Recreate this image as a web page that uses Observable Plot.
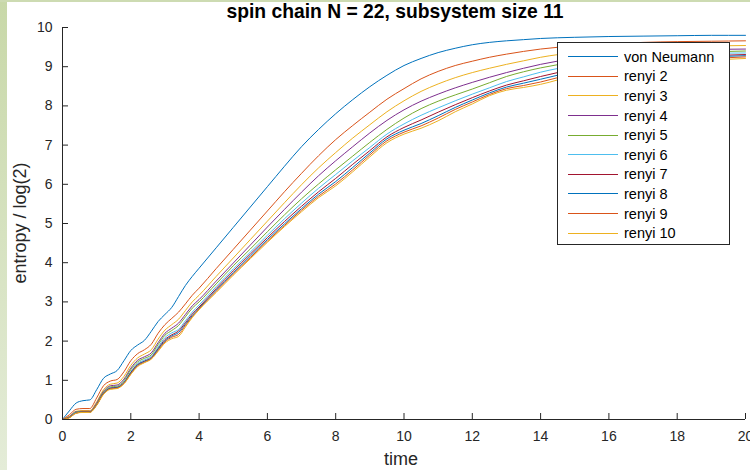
<!DOCTYPE html>
<html>
<head>
<meta charset="utf-8">
<script src="https://cdn.jsdelivr.net/npm/d3@7"></script>
<script src="https://cdn.jsdelivr.net/npm/@observablehq/plot@0.6"></script>
<style>
  body { margin: 0; background: #ffffff; font-family: "Liberation Sans", Arial, sans-serif; color: #262626; }
  #wrap { position: relative; width: 750px; height: 470px; overflow: hidden; background: #ffffff; }
  #edgeLeft { position: absolute; left: 0; top: 0; width: 7px; height: 470px; background: linear-gradient(#c8d8a8, #e4ecd8); }
  #edgeTop { position: absolute; left: 0; top: 0; width: 750px; height: 2px; background: #cddbb2; }
  #chart { position: absolute; left: 0; top: 0; }
  #title { position: absolute; top: 2px; left: 395px; transform: translateX(-50%); white-space: nowrap;
           font-weight: bold; font-size: 19.3px; line-height: 20px; color: #000; }
  #xlabel { position: absolute; top: 449px; left: 401px; transform: translateX(-50%); font-size: 18px; line-height: 20px; }
  #ylabel { position: absolute; left: 20px; top: 223px; transform: translate(-50%, -50%) rotate(-90deg); white-space: nowrap;
            font-size: 18px; line-height: 20px; }
  #legend { position: absolute; left: 557px; top: 42px; width: 173px; height: 203px; box-sizing: border-box;
            border: 1px solid #262626; background: #fff; padding-top: 4px; }
  .row { display: flex; align-items: center; height: 19.6px; }
  .swatch { margin-left: 10px; width: 50px; height: 0; border-top: 1px solid; }
  .lab { margin-left: 6px; font-size: 14.5px; color: #000; }
</style>
</head>
<body>
<div id="wrap">
  <div id="edgeLeft"></div>
  <div id="edgeTop"></div>
  <div id="chart"></div>
  <div id="title">spin chain N = 22, subsystem size 11</div>
  <div id="xlabel">time</div>
  <div id="ylabel">entropy / log(2)</div>
  <div id="legend"></div>
</div>
<script>
// Time grid of the entanglement-entropy curves
const time = [0, 0.2, 0.4, 0.6, 0.8, 1.0, 1.2, 1.4, 1.6, 1.8, 2.0, 2.2, 2.4, 2.6, 2.8, 3.0, 3.2, 3.4, 3.6, 3.8, 4.0,
  4.5, 5, 5.5, 6, 6.5, 7, 7.5, 8, 8.5, 9, 9.5, 10, 10.5, 11, 11.5, 12, 12.5, 13, 13.5, 14,
  15, 16, 17, 18, 19, 20];

// Entropies in bits (entropy / log 2) for the half-chain cut
const vonNeumann = [0, 0.22, 0.42, 0.48, 0.50, 0.76, 1.05, 1.16, 1.25, 1.50, 1.76, 1.90, 2.02, 2.25, 2.50, 2.68, 2.86, 3.14, 3.42, 3.65, 3.86,
  4.38, 4.90, 5.42, 5.94, 6.46, 6.96, 7.40, 7.80, 8.16, 8.49, 8.78, 9.03, 9.21, 9.36, 9.47, 9.56, 9.62, 9.66, 9.69, 9.72,
  9.75, 9.77, 9.78, 9.79, 9.80, 9.80];
const renyi2 = [0, 0.12, 0.26, 0.28, 0.28, 0.55, 0.86, 0.98, 1.02, 1.22, 1.50, 1.68, 1.78, 1.92, 2.20, 2.42, 2.58, 2.74, 2.95, 3.17, 3.35,
  3.85, 4.34, 4.83, 5.32, 5.81, 6.28, 6.73, 7.14, 7.50, 7.84, 8.17, 8.44, 8.69, 8.88, 9.03, 9.14, 9.24, 9.32, 9.39, 9.45,
  9.53, 9.58, 9.62, 9.64, 9.65, 9.66];
const renyi3 = [0, 0.08, 0.21, 0.23, 0.23, 0.45, 0.76, 0.90, 0.93, 1.10, 1.38, 1.57, 1.67, 1.78, 2.05, 2.28, 2.42, 2.56, 2.78, 3.00, 3.17,
  3.65, 4.12, 4.59, 5.06, 5.53, 5.99, 6.42, 6.81, 7.18, 7.52, 7.85, 8.13, 8.37, 8.56, 8.72, 8.85, 8.96, 9.06, 9.15, 9.24,
  9.36, 9.44, 9.49, 9.52, 9.53, 9.54];
const renyi4 = [0, 0.07, 0.20, 0.21, 0.21, 0.42, 0.72, 0.86, 0.88, 1.03, 1.31, 1.51, 1.60, 1.70, 1.96, 2.20, 2.33, 2.46, 2.68, 2.90, 3.06,
  3.53, 3.99, 4.45, 4.91, 5.36, 5.80, 6.22, 6.60, 6.96, 7.31, 7.63, 7.90, 8.12, 8.30, 8.46, 8.60, 8.73, 8.85, 8.96, 9.06,
  9.21, 9.31, 9.38, 9.42, 9.44, 9.45];
const renyi5 = [0, 0.06, 0.19, 0.20, 0.20, 0.40, 0.70, 0.83, 0.85, 0.99, 1.27, 1.47, 1.56, 1.65, 1.91, 2.15, 2.27, 2.40, 2.62, 2.84, 3.00,
  3.46, 3.92, 4.35, 4.79, 5.22, 5.63, 6.01, 6.37, 6.72, 7.07, 7.40, 7.69, 7.93, 8.12, 8.28, 8.43, 8.59, 8.75, 8.87, 8.97,
  9.12, 9.23, 9.31, 9.36, 9.38, 9.40];
const renyi6 = [0, 0.06, 0.18, 0.19, 0.19, 0.39, 0.68, 0.81, 0.83, 0.96, 1.22, 1.43, 1.52, 1.61, 1.85, 2.09, 2.21, 2.30, 2.52, 2.74, 2.92,
  3.39, 3.84, 4.27, 4.70, 5.12, 5.52, 5.90, 6.25, 6.60, 6.94, 7.28, 7.54, 7.76, 7.95, 8.13, 8.30, 8.46, 8.62, 8.74, 8.86,
  9.03, 9.16, 9.25, 9.31, 9.34, 9.35];
const renyi7 = [0, 0.05, 0.17, 0.19, 0.19, 0.38, 0.67, 0.80, 0.82, 0.94, 1.20, 1.40, 1.49, 1.58, 1.81, 2.04, 2.16, 2.26, 2.47, 2.69, 2.87,
  3.34, 3.79, 4.22, 4.64, 5.05, 5.44, 5.81, 6.15, 6.51, 6.86, 7.21, 7.45, 7.64, 7.84, 8.03, 8.21, 8.38, 8.53, 8.64, 8.75,
  8.94, 9.08, 9.18, 9.24, 9.28, 9.31];
const renyi8 = [0, 0.05, 0.17, 0.19, 0.19, 0.37, 0.66, 0.79, 0.81, 0.93, 1.18, 1.39, 1.48, 1.56, 1.79, 2.01, 2.13, 2.22, 2.43, 2.65, 2.84,
  3.30, 3.74, 4.17, 4.59, 4.99, 5.38, 5.75, 6.07, 6.43, 6.80, 7.16, 7.38, 7.55, 7.75, 7.96, 8.15, 8.33, 8.48, 8.58, 8.68,
  8.88, 9.03, 9.13, 9.20, 9.25, 9.28];
const renyi9 = [0, 0.05, 0.16, 0.19, 0.19, 0.37, 0.65, 0.78, 0.80, 0.92, 1.16, 1.37, 1.46, 1.55, 1.76, 1.98, 2.10, 2.17, 2.40, 2.62, 2.82,
  3.27, 3.71, 4.13, 4.55, 4.95, 5.34, 5.70, 6.01, 6.37, 6.75, 7.11, 7.33, 7.49, 7.69, 7.91, 8.10, 8.29, 8.44, 8.52, 8.61,
  8.83, 8.99, 9.10, 9.17, 9.21, 9.25];
const renyi10 = [0, 0.04, 0.16, 0.18, 0.18, 0.36, 0.64, 0.77, 0.79, 0.91, 1.15, 1.35, 1.45, 1.54, 1.74, 1.95, 2.06, 2.12, 2.36, 2.60, 2.80,
  3.24, 3.68, 4.10, 4.52, 4.92, 5.30, 5.66, 5.96, 6.32, 6.70, 7.06, 7.28, 7.43, 7.62, 7.85, 8.05, 8.26, 8.40, 8.47, 8.55,
  8.78, 8.95, 9.06, 9.13, 9.17, 9.21];

const seriesNames = ["von Neumann", "renyi 2", "renyi 3", "renyi 4", "renyi 5", "renyi 6", "renyi 7", "renyi 8", "renyi 9", "renyi 10"];
const seriesValues = [vonNeumann, renyi2, renyi3, renyi4, renyi5, renyi6, renyi7, renyi8, renyi9, renyi10];
const seriesColors = ["#0072BD", "#D95319", "#EDB120", "#7E2F8E", "#77AC30", "#4DBEEE", "#A2142F", "#0072BD", "#D95319", "#EDB120"];

const xTicks = [0, 2, 4, 6, 8, 10, 12, 14, 16, 18, 20];
const yTicks = [0, 1, 2, 3, 4, 5, 6, 7, 8, 9, 10];

// Long-format table: one row per (series, time)
const rows = seriesNames.flatMap((name, k) =>
  time.map((t, i) => ({series: name, t, s: seriesValues[k][i]})));

const axisColor = "#262626";

const chart = Plot.plot({
  width: 750,
  height: 470,
  marginLeft: 62,
  marginRight: 5,
  marginTop: 27,
  marginBottom: 51,
  style: {background: "transparent", fontFamily: "'Liberation Sans', Arial, sans-serif", fontSize: "14px", color: axisColor},
  x: {domain: [0, 20]},
  y: {domain: [0, 10]},
  color: {domain: seriesNames, range: seriesColors},
  marks: [
    Plot.line(rows, {x: "t", y: "s", z: "series", stroke: "series", strokeWidth: 1, curve: "monotone-x"}),
    Plot.axisX(xTicks, {tickSize: -6, tickPadding: 18, label: null, stroke: axisColor, fill: axisColor}),
    Plot.axisY(yTicks, {tickSize: -6, tickPadding: 16, label: null, stroke: axisColor, fill: axisColor}),
    Plot.ruleY([0], {stroke: axisColor}),
    Plot.ruleX([0], {stroke: axisColor})
  ]
});
document.getElementById("chart").appendChild(chart);

// Legend box drawn over the plot area
const legend = document.getElementById("legend");
seriesNames.forEach((name, k) => {
  const row = document.createElement("div");
  row.className = "row";
  const sw = document.createElement("div");
  sw.className = "swatch";
  sw.style.borderTopColor = seriesColors[k];
  const lab = document.createElement("span");
  lab.className = "lab";
  lab.textContent = name;
  row.appendChild(sw);
  row.appendChild(lab);
  legend.appendChild(row);
});
</script>
</body>
</html>
